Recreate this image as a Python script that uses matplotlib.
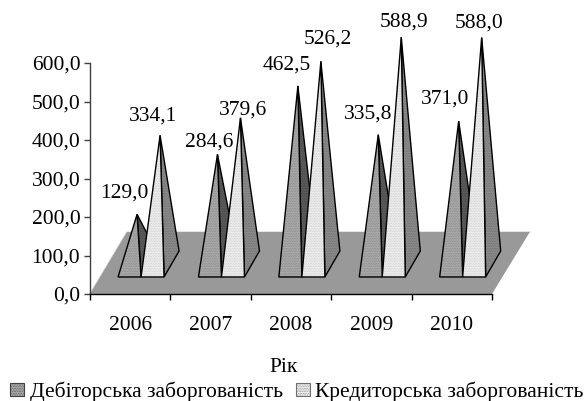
import matplotlib
matplotlib.use("Agg")
import matplotlib.pyplot as plt
from matplotlib.patches import Polygon, Patch

plt.rcParams['font.family'] = ['Liberation Serif', 'DejaVu Serif']
plt.rcParams['hatch.linewidth'] = 0.3

years = ['2006', '2007', '2008', '2009', '2010']
debit = [129.0, 284.6, 462.5, 335.8, 371.0]
credit = [334.1, 379.6, 526.2, 588.9, 588.0]
y_ticks = [0, 100, 200, 300, 400, 500, 600]
y_labels = ['0,0', '100,0', '200,0', '300,0', '400,0', '500,0', '600,0']

# label offsets from the apex, pixels
debit_offs = [(-13, 21), (-8, 12), (-11, 21), (-10, 21), (-14, 22)]
credit_offs = [(-7, 19), (3, 8), (7, 22), (3, 15), (-3, 15)]

# fake 3d projection, in data units
bar_w = 0.286
shift = 0.135
front = 44.2
depth_y = 67.5
depth_x = 0.187
fs = 15.5


def pyramid(ax, x0, value, front_cols, side_cols):
    x1 = x0 + bar_w
    fl = (x0, front)
    fr = (x1, front)
    br = (x1 + depth_x, front + depth_y)
    top = ((x0 + x1) / 2 + depth_x / 2, front + depth_y / 2 + value)
    for pts, cols in [([fr, br, top], side_cols), ([fl, fr, top], front_cols)]:
        ax.add_patch(Polygon(pts, facecolor=cols[0], edgecolor=cols[1], hatch='..........', lw=0, clip_on=False))
        ax.add_patch(Polygon(pts, fill=False, edgecolor='black', lw=1.0, clip_on=False, joinstyle='miter'))
    return top


fig = plt.figure(figsize=(5.87, 4.01), dpi=100)
ax = fig.add_axes([90 / 587, 107 / 401, 402 / 587, 231 / 401])
ax.set_xlim(0, 5)
ax.set_ylim(0, 600)

# floor
ax.plot([0, 0.46, 5.47], [0, 161, 161], color='#d8d8d8', lw=1.0, clip_on=False, zorder=0.5)
ax.add_patch(Polygon([(0, 0), (5, 0), (5.47, 161), (0.46, 161)], facecolor='#999999', edgecolor='none',
                     clip_on=False, zorder=0.6))

for i in range(len(years)):
    mid = i + 0.5 + shift
    t1 = pyramid(ax, mid - bar_w, debit[i], ('#a8a8a8', '#808080'), ('#5a5a5a', '#404040'))
    t2 = pyramid(ax, mid, credit[i], ('#ececec', '#c4c4c4'), ('#8a8a8a', '#666666'))
    for top, val, off in [(t1, debit[i], debit_offs[i]), (t2, credit[i], credit_offs[i])]:
        ax.annotate(f'{val:.1f}'.replace('.', ','), xy=top, xytext=(off[0] * 0.72, off[1] * 0.72),
                    textcoords='offset points', ha='center', va='center', fontsize=fs,
                    annotation_clip=False)

for s in ['top', 'right']:
    ax.spines[s].set_visible(False)
ax.spines['left'].set_linewidth(1.0)
ax.spines['left'].set_color('#404040')
ax.spines['bottom'].set_linewidth(1.0)
ax.patch.set_alpha(0)

ax.set_yticks(y_ticks)
ax.set_yticklabels(y_labels, fontsize=fs)
ax.tick_params(axis='y', length=4, width=1, pad=3, color='#404040')
ax.set_xticks(range(len(years) + 1))
ax.set_xticklabels([])
ax.tick_params(axis='x', which='major', length=4, width=1)
ax.set_xticks([i + 0.5 for i in range(len(years))], minor=True)
ax.set_xticklabels(years, minor=True, fontsize=fs)
ax.tick_params(axis='x', which='minor', length=0, pad=15.5)
ax.set_xlabel('Рік', fontsize=fs)
ax.xaxis.set_label_coords(0.482, -0.278)

handles = [
    Patch(facecolor='#a8a8a8', edgecolor='#404040', hatch='..........', lw=0.8, label='Дебіторська заборгованість'),
    Patch(facecolor='#ececec', edgecolor='#707070', hatch='..........', lw=0.8, label='Кредиторська заборгованість'),
]
fig.legend(handles=handles, ncols=2, frameon=False, fontsize=fs, loc='center', bbox_to_anchor=(297 / 587, 9 / 401),
           handlelength=0.65, handleheight=0.6, handletextpad=0.25, columnspacing=0.6, borderpad=0, borderaxespad=0)

fig.savefig('out.png', dpi=100)
